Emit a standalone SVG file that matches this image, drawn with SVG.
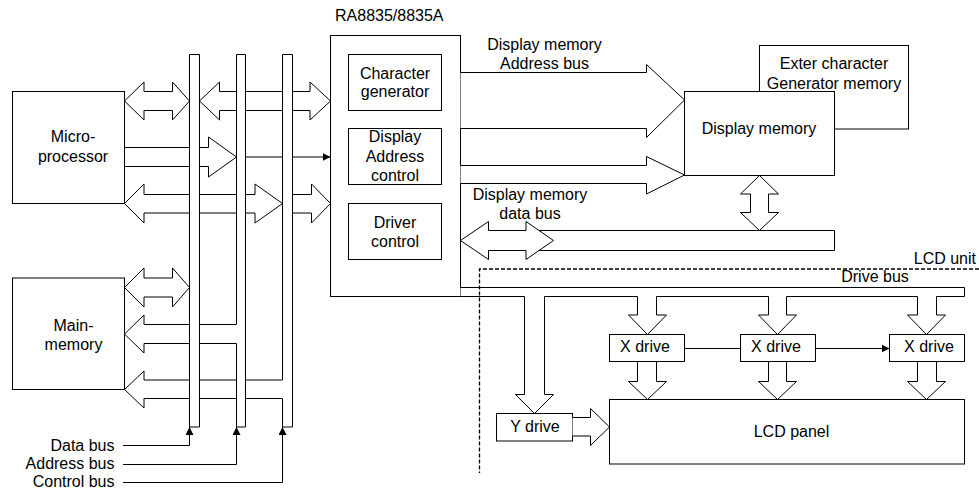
<svg xmlns="http://www.w3.org/2000/svg" width="979" height="489" viewBox="0 0 979 489">
<style>
.bx{fill:#fff;stroke:#000;stroke-width:1}
.ar{fill:#fff;stroke:#000;stroke-width:1;stroke-linejoin:miter}
.ln{fill:none;stroke:#000;stroke-width:1}
.bf{fill:#fff;stroke:none}
.dash{fill:none;stroke:#000;stroke-width:1.3;stroke-dasharray:4,2}
.t{font-family:"Liberation Sans",Arial,sans-serif;font-size:16px;fill:#000}
.m{text-anchor:middle}
.e{text-anchor:end}
</style>
<defs>
<marker id="ah" viewBox="0 0 8 8" refX="8" refY="4" markerWidth="8" markerHeight="8" markerUnits="userSpaceOnUse" orient="auto">
<path d="M0,0 L8,4 L0,8 Z" fill="#000"/>
</marker>
</defs>
<rect width="979" height="489" fill="#fff"/>

<g id="micro">
<rect class="bx" x="12.5" y="91.5" width="112" height="112"/>
<text class="t m" x="73" y="142">Micro-</text>
<text class="t m" x="73" y="162">processor</text>
</g>
<g id="mainmem">
<rect class="bx" x="12.5" y="278" width="112" height="111.5"/>
<text class="t m" x="73.5" y="331">Main-</text>
<text class="t m" x="73.5" y="350">memory</text>
</g>
<g id="ra8835">
<text class="t" x="335" y="21">RA8835/8835A</text>
<rect class="bx" x="330.5" y="35.5" width="130" height="261"/>
</g>
<g id="chargen">
<rect class="bx" x="348.5" y="54.5" width="93" height="56"/>
<text class="t m" x="395" y="78.5">Character</text>
<text class="t m" x="395" y="97">generator</text>
</g>
<g id="dispaddr">
<rect class="bx" x="348.5" y="128.5" width="93" height="56"/>
<text class="t m" x="395" y="142">Display</text>
<text class="t m" x="395" y="161.5">Address</text>
<text class="t m" x="395" y="181">control</text>
</g>
<g id="drvctrl">
<rect class="bx" x="348.5" y="203.5" width="93" height="56"/>
<text class="t m" x="395" y="227.5">Driver</text>
<text class="t m" x="395" y="246.5">control</text>
</g>
<g id="extercg">
<rect class="bx" x="759.5" y="45.5" width="149" height="83.5"/>
<text class="t m" x="834" y="68.5">Exter character</text>
<text class="t m" x="834" y="88.5">Generator memory</text>
</g>
<g id="dispmem">
<rect class="bx" x="684.5" y="91.5" width="150" height="84"/>
<text class="t m" x="759" y="133.5">Display memory</text>
</g>
<g id="xdrive1">
<rect class="bx" x="609.5" y="334.5" width="75" height="27"/>
<text class="t m" x="645" y="352">X drive</text>
</g>
<g id="xdrive2">
<rect class="bx" x="740.5" y="334.5" width="75" height="27"/>
<text class="t m" x="776" y="352">X drive</text>
</g>
<g id="xdrive3">
<rect class="bx" x="889.5" y="334.5" width="75" height="27"/>
<text class="t m" x="929" y="352">X drive</text>
</g>
<g id="ydrive">
<rect class="bx" x="496.5" y="413.5" width="76" height="27.5"/>
<text class="t m" x="535" y="432">Y drive</text>
</g>
<g id="lcdpanel">
<rect class="bx" x="609.5" y="399.5" width="355" height="64.5"/>
<text class="t m" x="791.5" y="437">LCD panel</text>
</g>

<g id="connectors">
<polygon class="ar" points="124.5,101 144,82 144,91.5 172.5,91.5 172.5,82 189.5,101 172.5,120 172.5,110.5 144,110.5 144,120"/>
<polygon class="ar" points="199.5,101 219.5,82 219.5,91.5 310,91.5 310,82 330.5,101 310,120 310,110.5 219.5,110.5 219.5,120"/>
<polygon class="ar" points="124.5,147.5 208.5,147.5 208.5,137 236.5,157 208.5,177 208.5,166.5 124.5,166.5"/>
<line class="ln" x1="245.5" y1="157" x2="330.5" y2="157" marker-end="url(#ah)"/>
<polygon class="ar" points="124.5,203.5 144,184 144,194.5 255,194.5 255,184 282.5,203.5 255,223 255,213 144,213 144,223"/>
<polygon class="ar" points="292.5,194.5 311.5,194.5 311.5,184 330.5,203.5 311.5,223 311.5,213 292.5,213"/>
<polygon class="ar" points="124.5,287.5 144,268 144,278 172.5,278 172.5,268 189.5,287.5 172.5,307 172.5,297 144,297 144,307"/>
<polyline class="ar" points="236.5,324.5 144,324.5 144,315 124.5,334 144,353 144,343.5 236.5,343.5"/>
<polyline class="ar" points="282.5,380 144,380 144,371 124.5,389.5 144,408 144,398.5 282.5,398.5"/>

<rect class="bf" x="189.5" y="54.5" width="10" height="372.5"/>
<rect class="bf" x="236.5" y="54.5" width="9" height="372.5"/>
<rect class="bf" x="282.5" y="54.5" width="10" height="372.5"/>
<path class="ln" d="M189.5,54.5 H199.5 V427 H189.5 Z"/>
<path class="ln" d="M236.5,343.5 V427 H245.5 V54.5 H236.5 V324.5"/>
<path class="ln" d="M282.5,398.5 V427 H292.5 V54.5 H282.5 V380"/>

<text class="t e" x="114.5" y="450.5">Data bus</text>
<text class="t e" x="114.5" y="468.5">Address bus</text>
<text class="t e" x="114.5" y="487">Control bus</text>
<path class="ln" d="M123,445.5 H189.5 V427" marker-end="url(#ah)"/>
<path class="ln" d="M123,464.5 H236.5 V427" marker-end="url(#ah)"/>
<path class="ln" d="M123,482.5 H282.5 V427" marker-end="url(#ah)"/>

<text class="t m" x="544.5" y="49.5">Display memory</text>
<text class="t m" x="544.5" y="68.5">Address bus</text>
<polyline class="ar" points="460.5,72.5 646.5,72.5 646.5,64.5 684.5,100 646.5,137.5 646.5,128.5 460.5,128.5"/>
<polyline class="ar" points="460.5,165.5 646.5,165.5 646.5,156.5 684.5,175 646.5,194 646.5,183.5 460.5,183.5"/>

<text class="t m" x="530" y="199.5">Display memory</text>
<text class="t m" x="530" y="218.5">data bus</text>
<path class="ar" d="M526,230.5 H834.5 V250.5 H526"/>
<polygon class="ar" points="460.5,240.5 488.5,221.5 488.5,230.5 526,230.5 526,221.5 553.5,240.5 526,259.5 526,250.5 488.5,250.5 488.5,259.5"/>
<polygon class="ar" points="759.5,175.5 778.5,194 768.5,194 768.5,212.5 778.5,212.5 759.5,230.5 740.5,212.5 750.5,212.5 750.5,194 740.5,194"/>

<path class="ar" d="M460.5,287.5 H964.5 V296.5 H936.5 V315 H945.5 L926.5,334.5 L907.5,315 H917.5 V296.5 H786.5 V315 H796.5 L777.5,334.5 L758.5,315 H768.5 V296.5 H656.5 V315 H666.5 L647.5,334.5 L628.5,315 H637.5 V296.5 H544.5 V394.5 H553.5 L534.5,413.5 L515.5,394.5 H524.5 V296.5 H460.5"/>
<text class="t m" x="875" y="281.5">Drive bus</text>

<polygon class="ar" points="637.5,361.5 637.5,381.5 628.5,381.5 647.5,399.5 666.5,381.5 656.5,381.5 656.5,361.5"/>
<polygon class="ar" points="768.5,361.5 768.5,381.5 758.5,381.5 777.5,399.5 796.5,381.5 786.5,381.5 786.5,361.5"/>
<polygon class="ar" points="917.5,361.5 917.5,381.5 907.5,381.5 926.5,399.5 945.5,381.5 936.5,381.5 936.5,361.5"/>
<polyline class="ar" points="572.5,417.5 590.5,417.5 590.5,408.5 609.5,427 590.5,445.5 590.5,436 572.5,436"/>
<line class="ln" x1="684.5" y1="348.5" x2="740.5" y2="348.5"/>
<line class="ln" x1="815.5" y1="348.5" x2="889.5" y2="348.5" marker-end="url(#ah)"/>

<path class="dash" d="M979,269 H479.5 V473"/>
<text class="t e" x="976" y="264">LCD unit</text>
</g>
</svg>
